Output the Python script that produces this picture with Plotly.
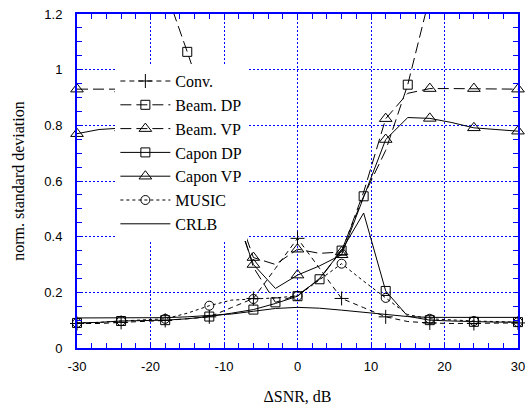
import plotly.graph_objects as go

# ---------------- data ----------------
snr = [-30, -27, -24, -21, -18, -15, -12, -9, -6, -3, 0, 3, 6, 9, 12, 15, 18, 21, 24, 27, 30]

conv     = [0.088, 0.088, 0.092, 0.095, 0.099, 0.105, 0.112, 0.145, 0.178, 0.286, 0.394,
            0.286, 0.178, 0.145, 0.112, 0.095, 0.090, 0.088, 0.088, 0.088, 0.090]
beam_dp  = [2.00, 1.80, 1.60, 1.45, 1.29, 1.064, 0.83, 0.55, 0.29, 0.164, 0.19,
            0.247, 0.35, 0.545, 0.71, 0.946, 1.29, 1.60, 1.90, 2.20, 2.50]
beam_vp  = [0.93, 0.93, 0.93, 0.92, 0.90, 0.85, 0.75, 0.55, 0.325, 0.30, 0.355,
            0.34, 0.345, 0.56, 0.824, 0.915, 0.932, 0.932, 0.932, 0.932, 0.930]
capon_dp = [0.090, 0.092, 0.097, 0.098, 0.100, 0.105, 0.113, 0.125, 0.138, 0.160, 0.186,
            0.250, 0.350, 0.485, 0.205, 0.114, 0.100, 0.097, 0.094, 0.093, 0.093]
capon_vp = [0.77, 0.785, 0.79, 0.79, 0.78, 0.75, 0.68, 0.52, 0.30, 0.214, 0.262,
            0.295, 0.335, 0.54, 0.749, 0.828, 0.825, 0.81, 0.791, 0.785, 0.779]
music    = [0.090, 0.092, 0.097, 0.100, 0.105, 0.125, 0.152, 0.172, 0.176, 0.180, 0.187,
            0.245, 0.303, 0.240, 0.180, 0.120, 0.105, 0.100, 0.097, 0.095, 0.093]
crlb     = [0.108, 0.108, 0.108, 0.108, 0.109, 0.112, 0.116, 0.122, 0.132, 0.142, 0.146,
            0.143, 0.136, 0.128, 0.120, 0.113, 0.110, 0.110, 0.110, 0.110, 0.110]

names = ["Conv.", "Beam. DP", "Beam. VP", "Capon DP", "Capon VP", "MUSIC", "CRLB"]
xtick_vals = [-30, -20, -10, 0, 10, 20, 30]
xtick_text = ["-30", "-20", "-10", "0", "10", "20", "30"]

# ---------------- styling ----------------
BLUE = "#0000ff"
BLACK = "#000000"
SERIF = "Liberation Serif, Times New Roman, serif"
SANS = "Liberation Sans, Arial, sans-serif"

series = [
    # name, values, dash, symbol, size, marker start index
    (names[0], conv,     "5px,4px",  "cross-thin-open",  10, 0),
    (names[1], beam_dp,  "11px,5px", "square-open",       9, 1),
    (names[2], beam_vp,  "11px,5px", "triangle-up-open", 11, 0),
    (names[3], capon_dp, "solid",    "square-open",       9, 0),
    (names[4], capon_vp, "solid",    "triangle-up-open", 11, 0),
    (names[5], music,    "3px,3px",  "circle-open",       9, 0),
    (names[6], crlb,     "solid",    None,                0, 0),
]

fig = go.Figure()

for name, vals, dash, sym, size, start in series:
    clip = name == names[1]
    # full line through all points
    fig.add_trace(go.Scatter(
        x=snr, y=vals, mode="lines", showlegend=False, hoverinfo="skip",
        line=dict(color=BLACK, width=1, dash=dash), cliponaxis=True))
    # markers every 6 dB
    if sym is not None:
        fig.add_trace(go.Scatter(
            x=snr[start::2], y=vals[start::2], mode="markers", showlegend=False,
            cliponaxis=clip,
            marker=dict(symbol=sym, size=size, color=BLACK,
                        line=dict(color=BLACK, width=1))))

# legend entries
for name, vals, dash, sym, size, start in series:
    if sym is not None:
        fig.add_trace(go.Scatter(
            x=[None], y=[None], mode="lines+markers", name=name,
            line=dict(color=BLACK, width=1, dash=dash),
            marker=dict(symbol=sym, size=size, color=BLACK,
                        line=dict(color=BLACK, width=1))))
    else:
        fig.add_trace(go.Scatter(
            x=[None], y=[None], mode="lines", name=name,
            line=dict(color=BLACK, width=1, dash=dash)))

axis_common = dict(
    showline=True, linecolor=BLUE, linewidth=2, mirror="ticks",
    ticks="inside", ticklen=5, tickcolor=BLUE, tickwidth=1,
    showgrid=True, gridcolor=BLUE, gridwidth=1, griddash="2px,2px",
    zeroline=False,
    tickfont=dict(family=SANS, size=13, color=BLACK),
)

fig.update_layout(
    width=529, height=409,
    margin=dict(l=77, r=11, t=14, b=61, autoexpand=False),
    paper_bgcolor="white", plot_bgcolor="white",
    xaxis=dict(
        range=[-30, 30], tickmode="array", tickvals=xtick_vals, ticktext=xtick_text,
        minor=dict(dtick=2, ticks="inside", ticklen=5, tickcolor=BLUE, showgrid=False),
        title=dict(text="\u0394SNR, dB", font=dict(family=SERIF, size=16, color=BLACK), standoff=18),
        ticklabelstandoff=5,
        **axis_common),
    yaxis=dict(
        range=[0, 1.2], dtick=0.2, tick0=0,
        minor=dict(dtick=0.05, ticks="inside", ticklen=5, tickcolor=BLUE, showgrid=False),
        title=dict(text="norm. standard deviation", font=dict(family=SERIF, size=16, color=BLACK), standoff=16),
        ticklabelstandoff=10,
        **axis_common),
    legend=dict(
        x=0.087, y=0.85, xanchor="left", yanchor="top",
        bgcolor="white", borderwidth=0,
        font=dict(family=SERIF, size=16, color=BLACK),
        itemwidth=50, tracegroupgap=0,
    ),
)

fig.write_html("out.html")
